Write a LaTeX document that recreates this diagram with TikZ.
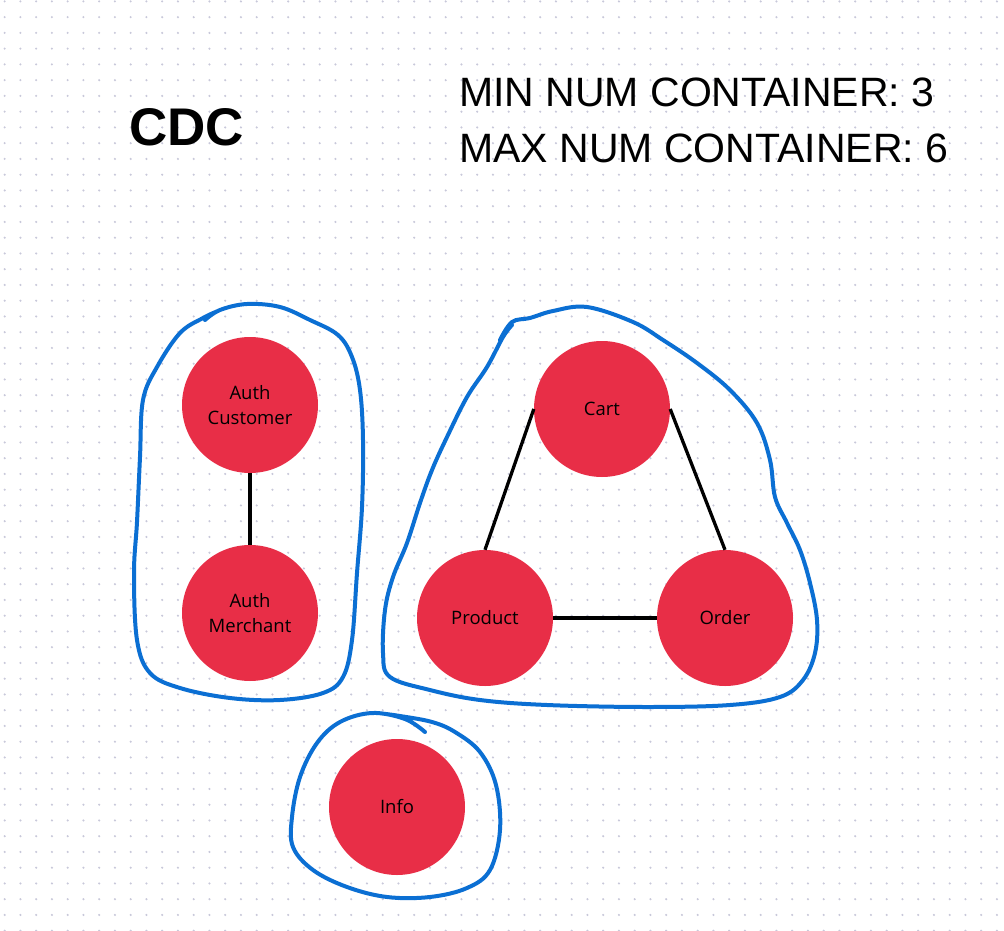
\documentclass[tikz,border=0pt]{standalone}
\usepackage{fontspec}
\setmainfont{Liberation Sans}
\newfontfamily\labelfont{Open Sans}
\definecolor{nodered}{HTML}{E82E47}
\definecolor{blobblue}{HTML}{0B6FD3}
\definecolor{dotc}{HTML}{C8C8DA}
\tikzset{
  svc/.style={circle, fill=nodered, minimum size=136pt, inner sep=0pt, align=center,
    font=\labelfont\fontsize{18.5}{25}\selectfont, text=black},
  link/.style={black, line width=3.3pt},
  blob/.style={blobblue, line width=4pt, line cap=round, line join=round},
}
\begin{document}
\begin{tikzpicture}[x=1pt, y=-1pt]
\useasboundingbox (0,0) rectangle (1004,931);
\fill[white] (0,0) rectangle (1004,931);
% dot grid
\foreach \i in {0,...,63}{
  \foreach \j in {0,...,59}{
    \fill[dotc] ({4.7+15.75*\i},{1.4+15.75*\j}) circle (1.15);
  }
}
% titles
\node[anchor=base, font=\bfseries\fontsize{53}{60}\selectfont] (title) at (186.5,146) {CDC};
\node[anchor=base west, font=\fontsize{41}{56}\selectfont, inner sep=0pt] (minc) at (459,107) {MIN NUM CONTAINER: 3};
\node[anchor=base west, font=\fontsize{41}{56}\selectfont, inner sep=0pt] (maxc) at (459,163) {MAX NUM CONTAINER: 6};
% blobs
\draw[blob] plot[smooth, tension=0.6] coordinates {
  (205,320) (220,310) (247,304) (280,307) (310,320) (338,335) (352,357) (360,390)
  (363,440) (362,507) (357,573) (352,640) (343,677) (323,693) (280,700) (230,698)
  (180,688) (150,673) (137,640) (134,573) (137,522) (140,457) (143,400)
  (157,367) (180,333) (203,318) (218,311)};
\draw[blob] plot[smooth, tension=0.6] coordinates {
  (500,340) (512,322) (530,318) (553,311) (587,307) (633,322) (663,340) (697,363)
  (730,390) (757,423) (770,460) (775,497) (787,523) (800,550) (810,583) (817,620)
  (815,653) (803,680) (780,697) (730,705) (647,707) (547,705) (480,700) (430,690)
  (390,677) (383,653) (385,610) (393,577) (407,543) (420,503) (432,470) (447,437)
  (467,397) (487,367) (503,337) (512,325)};
\draw[blob] plot[smooth, tension=0.6] coordinates {
  (425,732) (405,719) (372,713) (340,722) (317,743) (300,777) (292,817) (293,847)
  (313,870) (347,887) (387,897) (430,897) (467,888) (490,870) (500,830) (496,785)
  (480,752) (455,732) (432,722) (400,716) (378,713)};
% services
\node[svc] (ac) at (250,405) {Auth\\Customer};
\node[svc] (am) at (250,613) {Auth\\Merchant};
\node[svc] (cart) at (602,409) {Cart};
\node[svc] (prod) at (485,618) {Product};
\node[svc] (order) at (725,618) {Order};
\node[svc] (info) at (397,807) {Info};
% links
\draw[link] (ac.south) -- (am.north);
\draw[link] (cart.west) -- (prod.north);
\draw[link] (cart.east) -- (order.north);
\draw[link] (prod.east) -- (order.west);
\end{tikzpicture}
\end{document}
